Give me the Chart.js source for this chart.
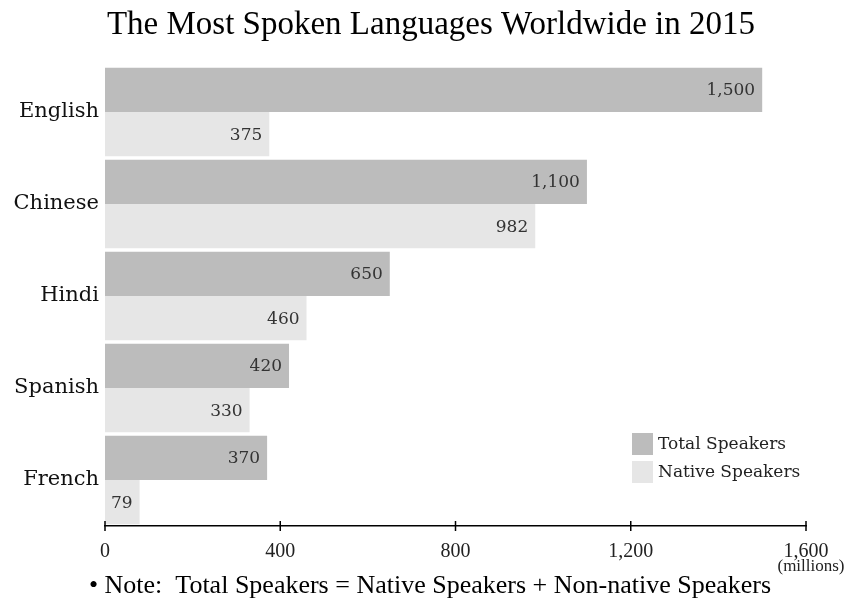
<!DOCTYPE html>
<html>
<head>
<meta charset="utf-8">
<script src="https://cdn.jsdelivr.net/npm/chart.js@4"></script>
<style>
  html, body { margin: 0; padding: 0; background: #fff; }
  #wrap { width: 849px; height: 601px; }
</style>
</head>
<body>
<div id="wrap"><canvas id="langChart" width="849" height="601"></canvas></div>
<script>
const titleText = "The Most Spoken Languages Worldwide in 2015";
const noteText = "\u2022 Note:  Total Speakers = Native Speakers + Non-native Speakers";
const unitText = "(millions)";

const languages = ["English", "Chinese", "Hindi", "Spanish", "French"];
const totalSpeakers = [1500, 1100, 650, 420, 370];
const nativeSpeakers = [375, 982, 460, 330, 79];
const xTicks = [0, 400, 800, 1200, 1600];

const serif = "'DejaVu Serif', serif";
const narrow = "'Liberation Serif', serif";

// value labels inside the bar ends
const valueLabels = {
    id: "valueLabels",
    afterDatasetsDraw(chart) {
        const ctx = chart.ctx;
        ctx.save();
        ctx.font = "17px " + serif;
        ctx.fillStyle = "#333";
        ctx.textAlign = "right";
        ctx.textBaseline = "middle";
        chart.data.datasets.forEach(function(ds, i) {
            chart.getDatasetMeta(i).data.forEach(function(bar, j) {
                ctx.fillText(ds.data[j].toLocaleString("en-US"), bar.x - 7, bar.y + 1);
            });
        });
        ctx.restore();
    }
};

// title, note, unit, axis ticks and legend
const extras = {
    id: "extras",
    afterDraw(chart) {
        const ctx = chart.ctx;
        const area = chart.chartArea;
        const x = chart.scales.x;
        ctx.save();

        ctx.fillStyle = "#000";
        ctx.textAlign = "center";
        ctx.textBaseline = "middle";
        ctx.font = "33px " + narrow;
        ctx.fillText(titleText, 431, 25);

        ctx.font = "26px " + narrow;
        ctx.fillText(noteText, 430, 586);

        ctx.font = "17px " + narrow;
        ctx.fillStyle = "#222";
        ctx.fillText(unitText, x.getPixelForValue(1600) + 5, 567);

        // tick marks crossing the axis line
        ctx.strokeStyle = "#000";
        ctx.lineWidth = 1.5;
        xTicks.forEach(function(v) {
            const px = x.getPixelForValue(v);
            ctx.beginPath();
            ctx.moveTo(px, area.bottom - 5);
            ctx.lineTo(px, area.bottom + 5);
            ctx.stroke();
        });

        // legend
        ctx.textAlign = "left";
        ctx.font = "17px " + serif;
        chart.data.datasets.forEach(function(ds, i) {
            const ly = 433 + i * 28;
            ctx.fillStyle = ds.backgroundColor;
            ctx.fillRect(632, ly, 21, 22);
            ctx.fillStyle = "#222";
            ctx.fillText(ds.label, 658, ly + 12);
        });
        ctx.restore();
    }
};

new Chart(document.getElementById("langChart"), {
    type: "bar",
    data: {
        labels: languages,
        datasets: [
            { label: "Total Speakers", data: totalSpeakers, backgroundColor: "#bcbcbc" },
            { label: "Native Speakers", data: nativeSpeakers, backgroundColor: "#e6e6e6" }
        ]
    },
    options: {
        indexAxis: "y",
        responsive: false,
        animation: false,
        layout: { padding: { top: 66, right: 43, bottom: 35, left: 0 } },
        datasets: { bar: { categoryPercentage: 0.96, barPercentage: 1.0 } },
        scales: {
            x: {
                min: 0,
                max: 1600,
                afterBuildTicks(scale) { scale.ticks = xTicks.map(v => ({ value: v })); },
                afterFit(scale) { scale.height = 40; },
                grid: { display: false, drawTicks: false },
                border: { display: true, color: "#000", width: 1.5 },
                ticks: {
                    padding: 14,
                    color: "#222",
                    font: { family: narrow, size: 20 },
                    callback: v => v.toLocaleString("en-US")
                }
            },
            y: {
                afterFit(scale) { scale.width = 105; },
                grid: { display: false, drawTicks: false },
                border: { display: false },
                ticks: { padding: 6, color: "#111", font: { family: serif, size: 21 } }
            }
        },
        plugins: {
            legend: { display: false },
            tooltip: { enabled: false }
        }
    },
    plugins: [valueLabels, extras]
});
</script>
</body>
</html>
